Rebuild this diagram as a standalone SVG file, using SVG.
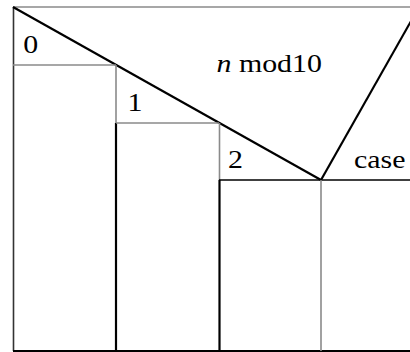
<svg xmlns="http://www.w3.org/2000/svg" width="410" height="352" viewBox="0 0 410 352">
<style>
.g{stroke:#8a8a8a;stroke-width:1.6;fill:none}
.k{stroke:#000;stroke-width:2.2;fill:none}
.kt{stroke:#000;stroke-width:1.6;fill:none}
.t{font-family:'Liberation Serif','Times New Roman',Times,'DejaVu Serif',serif;font-size:26px;fill:#000}
</style>
<rect width="410" height="352" fill="#fff"/>
<g id="frame">
<line class="g" x1="13" y1="7" x2="410" y2="7"/>
<line x1="13.5" y1="7" x2="13.5" y2="351" stroke="#333" stroke-width="1.6"/>
<line class="k" x1="13" y1="351" x2="410" y2="351"/>
</g>
<g id="condition">
<line class="k" x1="13" y1="7" x2="321" y2="180"/>
<line class="k" x1="321" y1="180" x2="419" y2="7"/>
<text class="t" transform="translate(216.5,72) scale(1.15,1)"><tspan font-style="italic">n</tspan> mod10</text>
</g>
<g id="case0">
<line class="g" x1="13" y1="65" x2="116" y2="65"/>
<text class="t" transform="translate(23.3,53.3) scale(1.15,1)">0</text>
</g>
<g id="case1">
<line class="g" x1="116" y1="65" x2="116" y2="123"/>
<line class="k" x1="116" y1="123" x2="116" y2="351"/>
<line class="g" x1="116" y1="123" x2="219" y2="123"/>
<text class="t" transform="translate(127.4,111) scale(1.15,1)">1</text>
</g>
<g id="case2">
<line class="g" x1="219.5" y1="123" x2="219.5" y2="180"/>
<line class="k" x1="219.5" y1="180" x2="219.5" y2="351"/>
<line class="kt" x1="219" y1="180" x2="410" y2="180"/>
<text class="t" transform="translate(228,168.3) scale(1.15,1)">2</text>
</g>
<g id="casedefault">
<line class="g" x1="321" y1="180" x2="321" y2="351"/>
<text class="t" transform="translate(354,168.3) scale(1.15,1)">case</text>
</g>
<g id="connectors"></g>
</svg>
